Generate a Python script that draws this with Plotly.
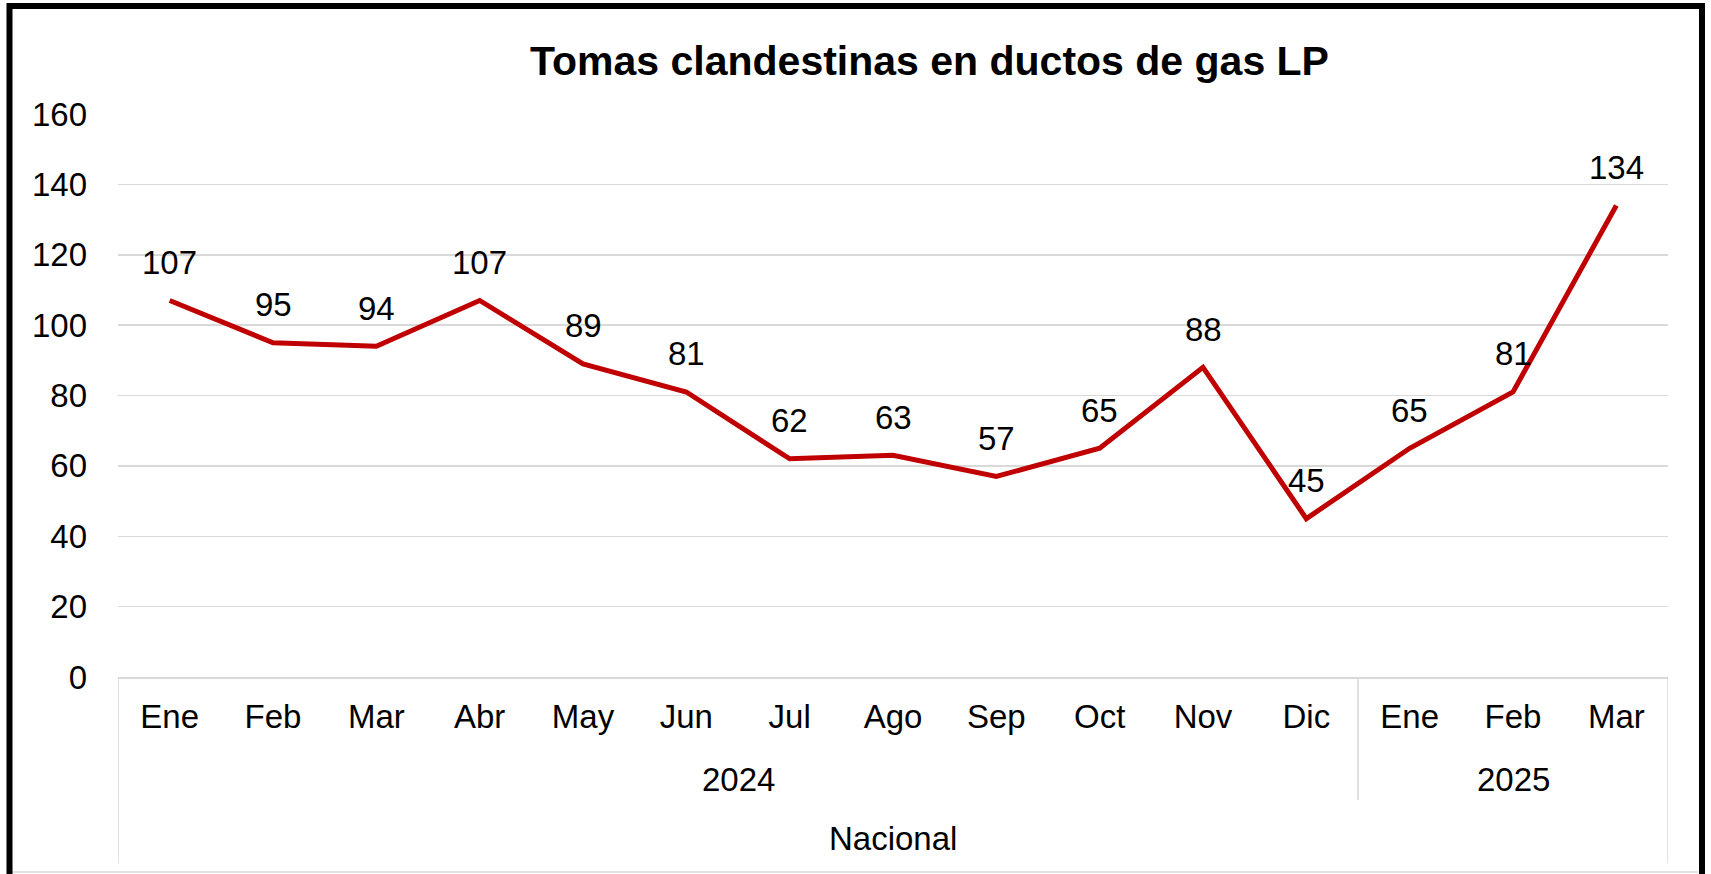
import plotly.graph_objects as go

months = ["Ene", "Feb", "Mar", "Abr", "May", "Jun", "Jul", "Ago", "Sep", "Oct", "Nov", "Dic", "Ene", "Feb", "Mar"]
years = ["2024"] * 12 + ["2025"] * 3
group_label = "Nacional"
values = [107, 95, 94, 107, 89, 81, 62, 63, 57, 65, 88, 45, 65, 81, 134]
title = "Tomas clandestinas en ductos de gas LP"

W, H = 1711, 874
L, R, T, B = 118, 1668, 114, 677  # plot area in px
pw, ph = R - L, B - T


def px_x(p):
    return (p - L) / pw


def px_y(p):
    return (B - p) / ph


FONT = "Liberation Sans, Arial, sans-serif"
idx = list(range(len(values)))

fig = go.Figure()
fig.add_trace(go.Scatter(
    x=idx, y=values, mode="lines",
    line=dict(color="#C00000", width=5),
    hoverinfo="skip", showlegend=False,
))

annotations = []
for i, v in zip(idx, values):
    annotations.append(dict(x=i, y=v, xref="x", yref="y", text=str(v), showarrow=False,
                            yshift=38, yanchor="middle", font=dict(size=33, color="#000000", family=FONT)))

# year labels
uniq_years = []
for y in years:
    if y not in uniq_years:
        uniq_years.append(y)
for yr in uniq_years:
    ids = [i for i, y in enumerate(years) if y == yr]
    annotations.append(dict(x=sum(ids) / len(ids), y=px_y(779), xref="x", yref="paper", text=yr,
                            showarrow=False, yanchor="middle",
                            font=dict(size=33, color="#000000", family=FONT)))
annotations.append(dict(x=(idx[0] + idx[-1]) / 2, y=px_y(838), xref="x", yref="paper", text=group_label,
                        showarrow=False, yanchor="middle",
                        font=dict(size=33, color="#000000", family=FONT)))
annotations.append(dict(x=px_x(929), y=px_y(61), xref="paper", yref="paper", text="<b>" + title + "</b>",
                        showarrow=False, yanchor="middle", xanchor="center",
                        font=dict(size=41, color="#000000", family=FONT)))

shapes = []
grid = "#D9D9D9"
# outer dividers
shapes.append(dict(type="line", xref="x", yref="paper", x0=-0.5, x1=-0.5, y0=0, y1=px_y(863),
                   line=dict(color=grid, width=1.5)))
shapes.append(dict(type="line", xref="x", yref="paper", x0=len(values) - 0.5, x1=len(values) - 0.5,
                   y0=0, y1=px_y(863), line=dict(color=grid, width=1.5)))
# year divider
split = years.index("2025") - 0.5
shapes.append(dict(type="line", xref="x", yref="paper", x0=split, x1=split, y0=0, y1=px_y(800),
                   line=dict(color=grid, width=1.5)))
# chart-area light border bottom
shapes.append(dict(type="line", xref="paper", yref="paper", x0=px_x(12), x1=px_x(1698), y0=px_y(872),
                   y1=px_y(872), line=dict(color=grid, width=1.5)))
# black frame
shapes.append(dict(type="rect", xref="paper", yref="paper", x0=px_x(9.5), x1=px_x(1702),
                   y0=px_y(890), y1=px_y(6), line=dict(color="#000000", width=6)))

fig.update_layout(
    width=W, height=H,
    margin=dict(l=L, r=W - R, t=T, b=H - B),
    paper_bgcolor="white", plot_bgcolor="white",
    font=dict(family=FONT, size=33, color="#000000"),
    annotations=annotations, shapes=shapes,
    hovermode=False,
    xaxis=dict(range=[-0.5, len(values) - 0.5], tickmode="array", tickvals=idx, ticktext=months,
               showgrid=False, zeroline=False, showline=True, linecolor=grid, linewidth=1.5,
               ticks="", ticklabelstandoff=10, tickfont=dict(size=33, color="#000000")),
    yaxis=dict(range=[0, 160], dtick=20, showgrid=True, gridcolor=grid, gridwidth=1.5,
               zeroline=False, showline=False, ticks="", ticklabelstandoff=30,
               tickfont=dict(size=33, color="#000000")),
)

fig.write_html(
    "out.html",
    config={"displayModeBar": False, "staticPlot": True},
    post_script="document.body.style.margin='0';document.body.style.overflow='hidden';",
)
